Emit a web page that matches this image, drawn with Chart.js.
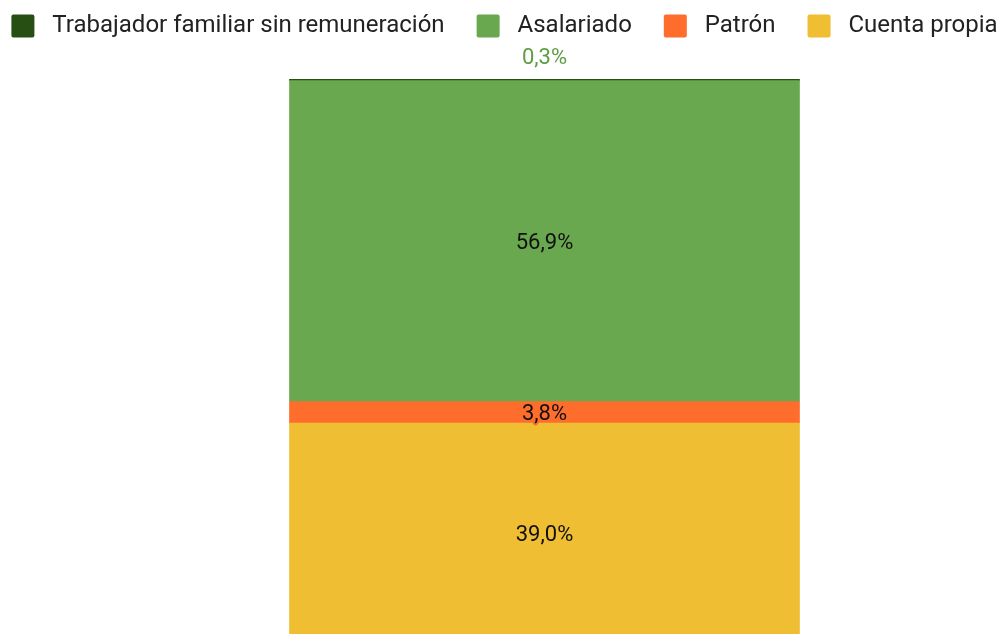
<!DOCTYPE html>
<html>
<head>
<meta charset="utf-8">
<script src="https://cdn.jsdelivr.net/npm/chart.js@4"></script>
<style>
  html, body { margin: 0; padding: 0; background: #fff; overflow: hidden; }
  #caja { position: absolute; left: -46px; top: 0; width: 1101px; height: 643px; }
</style>
</head>
<body>
<div id="caja"><canvas id="grafica"></canvas></div>
<script>
// Datos (orden de apilado: de abajo hacia arriba)
const categorias = ['Total'];
const series = ['Cuenta propia', 'Patrón', 'Asalariado', 'Trabajador familiar sin remuneración'];
const valores = [39.0, 3.8, 56.9, 0.3];
const colores = ['#f0be32', '#ff6d2d', '#6aa84f', '#274e13'];

const fmt = v => v.toFixed(1).replace('.', ',') + '%';

// Etiquetas de cada segmento
const etiquetas = {
  id: 'etiquetas',
  afterDatasetsDraw(chart) {
    const c = chart.ctx;
    c.save();
    c.font = '22px Roboto';
    c.textAlign = 'center';
    c.textBaseline = 'middle';
    chart.data.datasets.forEach((ds, i) => {
      const meta = chart.getDatasetMeta(i);
      meta.data.forEach((bar, j) => {
        const v = ds.data[j];
        const alto = Math.abs(bar.base - bar.y);
        const y = (bar.y + bar.base) / 2 + 2;
        if (alto < 8) {
          // segmento muy fino: etiqueta encima de la barra
          c.fillStyle = '#5e9e43';
          c.fillText(fmt(v), bar.x, bar.y - 21);
          return;
        }
        if (alto < 30) {
          c.lineWidth = 4;
          c.lineJoin = 'round';
          c.strokeStyle = ds.backgroundColor;
          c.strokeText(fmt(v), bar.x, y);
        }
        c.fillStyle = '#111';
        c.fillText(fmt(v), bar.x, y);
      });
    });
    c.restore();
  }
};

new Chart(document.getElementById('grafica').getContext('2d'), {
  type: 'bar',
  data: {
    labels: categorias,
    datasets: series.map((s, i) => ({
      label: s,
      data: [valores[i]],
      backgroundColor: colores[i],
      borderWidth: 0,
      barThickness: 510
    }))
  },
  options: {
    responsive: true,
    maintainAspectRatio: false,
    animation: false,
    layout: { padding: { left: 0, right: 0, top: -18, bottom: 0 } },
    scales: {
      x: {
        stacked: true, position: 'top',
        ticks: { display: false }, grid: { display: false }, border: { display: false },
        afterFit: s => { s.height = 31; }
      },
      y: {
        stacked: true, min: 0, max: 100,
        ticks: { display: false }, grid: { display: false }, border: { display: false },
        afterFit: s => { s.width = 80; }
      }
    },
    plugins: {
      tooltip: { enabled: false },
      legend: {
        position: 'top',
        reverse: true,
        labels: {
          font: { family: 'Roboto', size: 24 },
          color: '#222',
          boxWidth: 23,
          boxHeight: 23,
          padding: 32,
          useBorderRadius: true,
          borderRadius: 2,
          generateLabels: chart => Chart.defaults.plugins.legend.labels.generateLabels(chart)
            .map(it => Object.assign(it, { text: ' ' + it.text }))
        }
      }
    }
  },
  plugins: [etiquetas]
});
</script>
</body>
</html>
